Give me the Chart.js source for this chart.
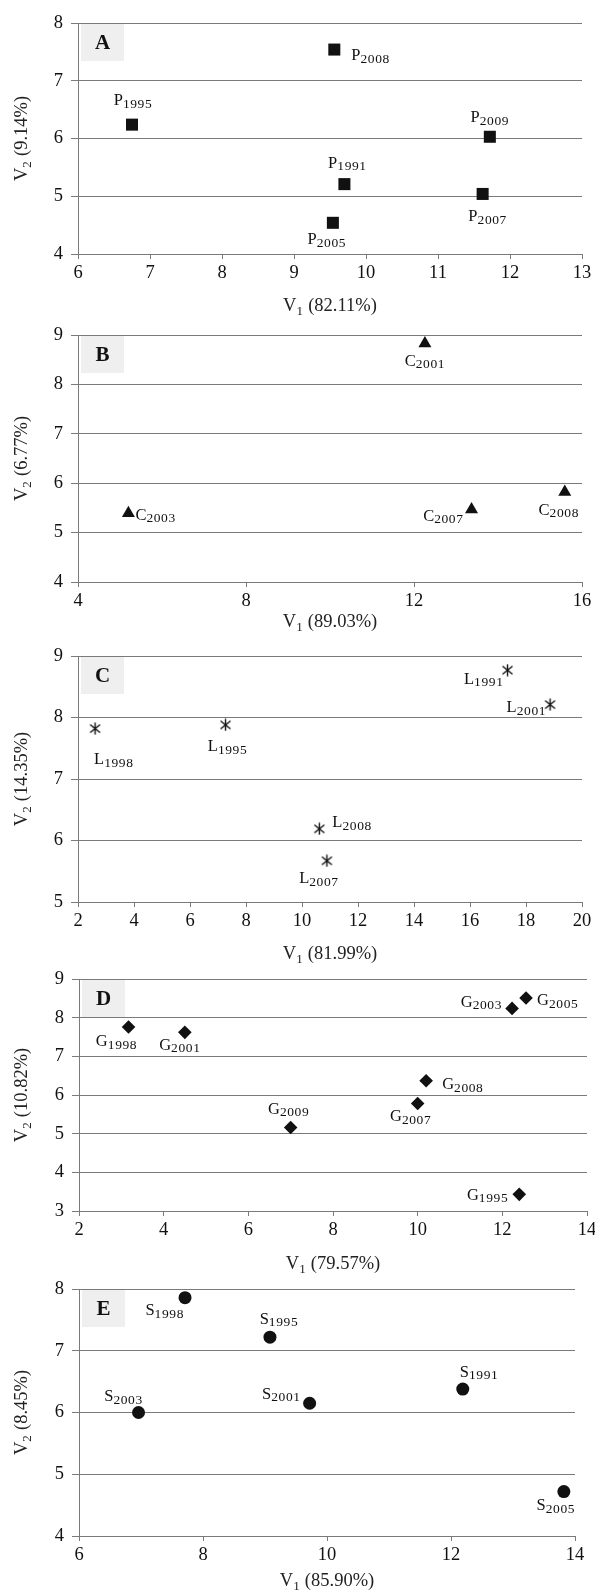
<!DOCTYPE html>
<html>
<head>
<meta charset="utf-8">
<script src="https://cdn.jsdelivr.net/npm/chart.js@4.4.0/dist/chart.umd.min.js"></script>
<style>
  html, body { margin: 0; padding: 0; background: #fff; width: 595px; height: 1590px; overflow: hidden; position: relative; }
  .panel { position: absolute; left: 0; width: 620px; }
</style>
</head>
<body>
<script>
// --- datos ---
const panelLetters = ['A', 'B', 'C', 'D', 'E'];
const prefixes = ['P', 'C', 'L', 'G', 'S'];
const v1Pct = ['82.11%', '89.03%', '81.99%', '79.57%', '85.90%'];
const v2Pct = ['9.14%', '6.77%', '14.35%', '10.82%', '8.45%'];

// A - P
const yearsA = ['2008', '1995', '2009', '1991', '2007', '2005'];
const v1A = [9.56, 6.75, 11.72, 9.70, 11.62, 9.54];
const v2A = [7.54, 6.24, 6.03, 5.21, 5.04, 4.54];
// B - C
const yearsB = ['2001', '2003', '2007', '2008'];
const v1B = [12.26, 5.20, 13.37, 15.59];
const v2B = [8.83, 5.39, 5.47, 5.82];
// C - L
const yearsC = ['1991', '2001', '1998', '1995', '2008', '2007'];
const v1C = [17.34, 18.86, 2.61, 7.27, 10.62, 10.89];
const v2C = [8.77, 8.21, 7.82, 7.88, 6.19, 5.67];
// D - G
const yearsD = ['2003', '2005', '1998', '2001', '2008', '2007', '2009', '1995'];
const v1D = [12.23, 12.56, 3.17, 4.50, 10.20, 10.00, 7.00, 12.40];
const v2D = [8.24, 8.51, 7.76, 7.62, 6.37, 5.78, 5.16, 3.43];
// E - S
const yearsE = ['1998', '1995', '1991', '2001', '2003', '2005'];
const v1E = [7.71, 9.08, 12.19, 9.72, 6.96, 13.82];
const v2E = [7.86, 7.22, 6.38, 6.15, 6.00, 4.72];

// rangos de ejes [min, max, paso]
const xRanges = [[6, 13, 1], [4, 16, 4], [2, 20, 2], [2, 14, 2], [6, 14, 2]];
const yRanges = [[4, 8], [4, 9], [5, 9], [3, 9], [4, 8]];

// --- colocacion de etiquetas (modo, dx, dy) ---
const placeA = [['left', 17, 5], ['center', 1, -25], ['center', 0, -20], ['center', 3, -22], ['center', 5, 22], ['center', -6, 16]];
const placeB = [['center', 0, 17], ['left', 7, 1], ['right', -8, 6], ['center', -6, 17]];
const placeC = [['right', -4, 8], ['right', -4, 2], ['left', -1, 30], ['center', 2, 21], ['left', 13, -7], ['center', -8, 17]];
const placeD = [['right', -10, -7], ['left', 11, 2], ['center', -12, 14], ['center', -5, 12], ['left', 16, 3], ['center', -7, 12], ['center', -2, -19], ['right', -11, 0]];
const placeE = [['right', -1, 12], ['center', 9, -19], ['left', -3, -18], ['right', -9, -10], ['center', -15, -17], ['center', -8, 13]];

const GRID = '#7a7a7a';
const INK = '#111';
const SERIF = '"Liberation Serif", "Times New Roman", serif';

// asterisco de 6 brazos para el panel C
function asterisco() {
    const c = document.createElement('canvas');
    c.width = 13; c.height = 13;
    const g = c.getContext('2d');
    g.strokeStyle = '#111';
    g.lineWidth = 1.4;
    g.beginPath();
    g.moveTo(6.5, 0.5); g.lineTo(6.5, 12.5);
    g.moveTo(1.5, 2.5); g.lineTo(11.5, 10.5);
    g.moveTo(11.5, 2.5); g.lineTo(1.5, 10.5);
    g.stroke();
    return c;
}

const panels = [
    { years: yearsA, xs: v1A, ys: v2A, place: placeA, area: [23, 254, 78, 582], titleY: 305, point: { pointStyle: 'rect', pointRadius: 8.5 } },
    { years: yearsB, xs: v1B, ys: v2B, place: placeB, area: [335, 582, 78, 582], titleY: 621, point: { pointStyle: 'triangle', pointRadius: 7.5 } },
    { years: yearsC, xs: v1C, ys: v2C, place: placeC, area: [656, 902, 78, 582], titleY: 953, point: { pointStyle: asterisco(), pointRadius: 7 } },
    { years: yearsD, xs: v1D, ys: v2D, place: placeD, area: [979, 1211, 79, 587], titleY: 1263, point: { pointStyle: 'rectRot', pointRadius: 6.8 } },
    { years: yearsE, xs: v1E, ys: v2E, place: placeE, area: [1289, 1536, 79, 575], titleY: 1580, point: { pointStyle: 'circle', pointRadius: 6.5 } }
];

// texto con subindices: parts = [[texto, esSub], ...]
function rich(ctx, parts, x, y, align, big, small, shift) {
    const fonts = parts.map(q => (q[1] ? small : big) + 'px ' + SERIF);
    let w = 0;
    const ws = parts.map((q, j) => {
        ctx.font = fonts[j];
        ctx.letterSpacing = q[1] ? '0.6px' : '0px';
        const m = ctx.measureText(q[0]).width;
        w += m;
        return m;
    });
    let cx = align === 'center' ? x - w / 2 : (align === 'right' ? x - w : x);
    ctx.textAlign = 'left';
    ctx.textBaseline = 'alphabetic';
    parts.forEach((q, j) => {
        ctx.font = fonts[j];
        ctx.letterSpacing = q[1] ? '0.6px' : '0px';
        ctx.fillText(q[0], cx, y + (q[1] ? shift : 0));
        cx += ws[j];
    });
    ctx.letterSpacing = '0px';
}

function deco(p, i, cTop) {
    return {
        id: 'deco' + i,
        beforeDatasetsDraw(chart) {
            const { ctx, chartArea: a } = chart;
            ctx.save();
            ctx.fillStyle = '#efefef';
            ctx.fillRect(a.left + 3, a.top + 1, 43, 37);
            ctx.fillStyle = INK;
            ctx.font = 'bold 21px ' + SERIF;
            ctx.textAlign = 'center';
            ctx.textBaseline = 'middle';
            ctx.fillText(panelLetters[i], a.left + 24.5, a.top + 21);
            ctx.restore();
        },
        afterDatasetsDraw(chart) {
            const { ctx, chartArea: a, scales: { x, y } } = chart;
            ctx.save();
            ctx.fillStyle = INK;
            p.years.forEach((yr, k) => {
                const [mode, dx, dy] = p.place[k];
                const px = x.getPixelForValue(p.xs[k]) + dx;
                const py = y.getPixelForValue(p.ys[k]) + dy;
                rich(ctx, [[prefixes[i], 0], [yr, 1]], px, py + 5.5, mode, 16.5, 13.5, 2.5);
            });
            // titulos de ejes
            ctx.fillStyle = '#222';
            rich(ctx, [['V', 0], ['1', 1], [' (' + v1Pct[i] + ')', 0]], (a.left + a.right) / 2, p.titleY - cTop + 6, 'center', 18.5, 13, 3.5);
            ctx.translate(21, (a.top + a.bottom) / 2);
            ctx.rotate(-Math.PI / 2);
            rich(ctx, [['V', 0], ['2', 1], [' (' + v2Pct[i] + ')', 0]], 0, 6, 'center', 18.5, 13, 3.5);
            ctx.restore();
        }
    };
}

panels.forEach((p, i) => {
    const [top, bottom, left, right] = p.area;
    const cTop = top - 20;
    const H = bottom - top + 90;
    const wrap = document.createElement('div');
    wrap.className = 'panel';
    wrap.style.top = cTop + 'px';
    wrap.style.height = H + 'px';
    const cv = document.createElement('canvas');
    cv.width = 620; cv.height = H;
    cv.style.width = '620px'; cv.style.height = H + 'px';
    wrap.appendChild(cv);
    document.body.appendChild(wrap);

    new Chart(cv, {
        type: 'scatter',
        data: {
            datasets: [Object.assign({
                data: p.xs.map((v, k) => ({ x: v, y: p.ys[k] })),
                backgroundColor: '#111',
                borderColor: '#111',
                pointBorderWidth: 0
            }, p.point)]
        },
        options: {
            responsive: false,
            animation: false,
            devicePixelRatio: 1,
            layout: { padding: { top: 20, left: 0, right: 620 - right, bottom: 40 } },
            plugins: { legend: { display: false }, tooltip: { enabled: false } },
            scales: {
                x: {
                    type: 'linear',
                    min: xRanges[i][0], max: xRanges[i][1],
                    ticks: { stepSize: xRanges[i][2], padding: 3, color: INK, font: { family: SERIF, size: 18.5 } },
                    grid: { drawOnChartArea: false, tickLength: 5, color: GRID },
                    border: { color: GRID },
                    afterFit: s => { s.height = 30; }
                },
                y: {
                    type: 'linear',
                    min: yRanges[i][0], max: yRanges[i][1],
                    ticks: { stepSize: 1, padding: 8, color: INK, font: { family: SERIF, size: 18.5 } },
                    grid: { tickLength: 7, color: GRID },
                    border: { color: GRID },
                    afterFit: s => { s.width = left; }
                }
            }
        },
        plugins: [deco(p, i, cTop)]
    });
});
</script>
</body>
</html>
